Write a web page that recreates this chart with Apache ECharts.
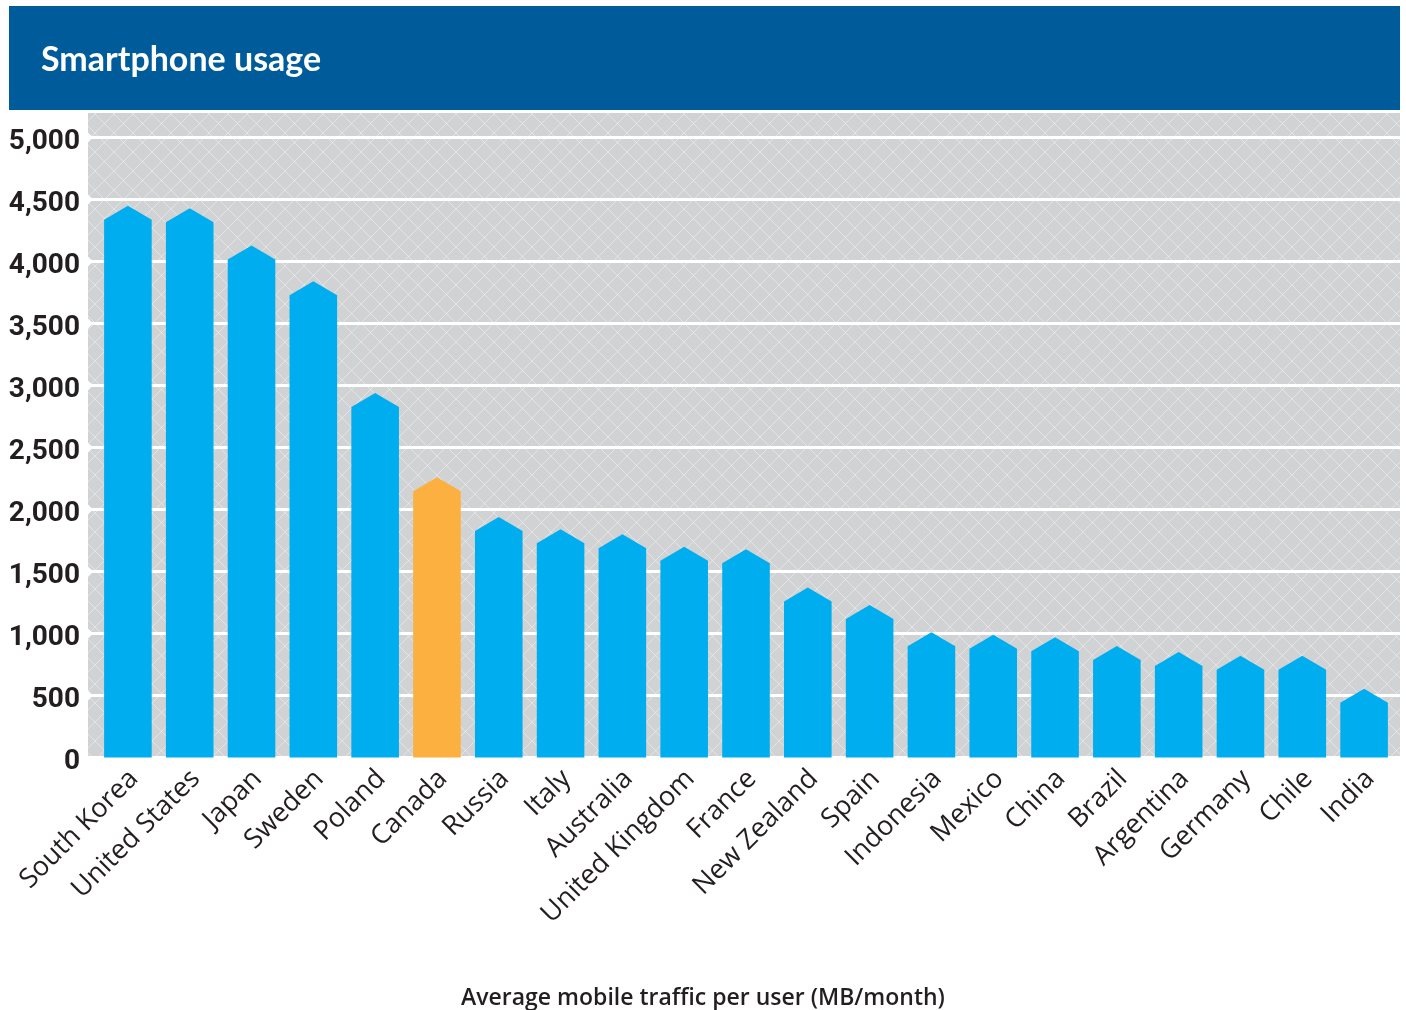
<!DOCTYPE html>
<html>
<head>
<meta charset="utf-8">
<script src="https://cdn.jsdelivr.net/npm/echarts@6/dist/echarts.min.js"></script>
<style>
html,body{margin:0;padding:0;background:#fff;}
#chart{width:1406px;height:1010px;}
</style>
</head>
<body>
<div id="chart"></div>
<script>
var categories = ['South Korea','United States','Japan','Sweden','Poland','Canada','Russia','Italy','Australia','United Kingdom','France','New Zealand','Spain','Indonesia','Mexico','China','Brazil','Argentina','Germany','Chile','India'];
var traffic = [4450,4430,4130,3840,2940,2260,1940,1840,1800,1700,1680,1370,1230,1010,990,970,900,850,820,820,555];
var highlighted = ['Canada'];
var yTicks = {min: 0, max: 5000, interval: 500};
var gridTickValues = [500,1000,1500,2000,2500,3000,3500,4000,4500,5000];
var titleText = 'Smartphone usage';
var captionText = 'Average mobile traffic per user (MB/month)';

var BLUE = '#00aeef', ORANGE = '#fbb040';

// hatched background pattern
var tile = document.createElement('canvas');
tile.width = 19; tile.height = 19;
var c = tile.getContext('2d');
c.fillStyle = '#d1d2d4';
c.fillRect(0,0,19,19);
c.strokeStyle = 'rgba(255,255,255,0.4)';
c.lineWidth = 1;
c.beginPath();
c.moveTo(0,0); c.lineTo(19,19);
c.moveTo(19,0); c.lineTo(0,19);
c.stroke();

var chart = echarts.init(document.getElementById('chart'), null, {renderer:'canvas'});

function fmt(v){ return String(v).replace(/\B(?=(\d{3})+(?!\d))/g, ','); }

var option = {
  animation: false,
  backgroundColor: '#ffffff',
  title: [
    {text: titleText, left: 36, top: 38,
     textStyle: {color: '#ffffff', fontFamily: 'Lato', fontWeight: 'bold', fontSize: 34}},
    {text: captionText, left: 'center', top: 982,
     textStyle: {color: '#231f20', fontFamily: 'Open Sans', fontWeight: 600, fontSize: 23}}
  ],
  graphic: [
    {type: 'rect', z: -10, shape: {x: 9, y: 6, width: 1391, height: 104}, style: {fill: '#005b9b'}},
    {type: 'rect', z: -10, shape: {x: 88, y: 113, width: 1312, height: 645}, style: {fill: {image: tile, repeat: 'repeat'}}}
  ],
  grid: [
    {left: 97, right: 11, top: 137.5, bottom: 252.5},
    {left: 88, right: 6, top: 137.5, bottom: 252.5},
    {left: 103, right: 5, top: 141.5, bottom: 248.5}
  ],
  xAxis: [{
    type: 'category',
    gridIndex: 0,
    data: categories,
    axisLine: {show: false},
    axisTick: {show: false},
    axisLabel: {show: false}
  }, {
    type: 'value', gridIndex: 1, show: false, min: 0, max: 1
  }, {
    type: 'category',
    gridIndex: 2,
    data: categories,
    axisLine: {show: false},
    axisTick: {show: false},
    axisLabel: {rotate: 45, margin: 13, color: '#231f20', fontFamily: 'Open Sans', fontSize: 27, interval: 0}
  }],
  yAxis: [{
    type: 'value',
    gridIndex: 0,
    min: yTicks.min, max: yTicks.max, interval: yTicks.interval,
    show: false
  }, {
    type: 'value',
    gridIndex: 1,
    min: yTicks.min, max: yTicks.max, interval: yTicks.interval,
    axisLine: {show: false},
    axisTick: {show: false},
    axisLabel: {show: false},
    splitLine: {lineStyle: {color: '#ffffff', width: 3}}
  }, {
    type: 'value',
    gridIndex: 2,
    min: yTicks.min, max: yTicks.max, interval: yTicks.interval,
    axisLine: {show: false},
    axisTick: {show: false},
    splitLine: {show: false},
    axisLabel: {margin: 23, color: '#231f20', fontFamily: 'Roboto', fontWeight: 'bold', fontSize: 28, formatter: fmt}
  }],
  series: [{
    type: 'custom',
    xAxisIndex: 0, yAxisIndex: 0,
    z: 5,
    data: traffic.map(function(v, i){ return [i, v]; }),
    renderItem: function(params, api){
      var idx = api.value(0);
      var top = api.coord([idx, api.value(1)]);
      var base = api.coord([idx, 0]);
      var w = api.size([1, 0])[0] * 0.77;
      var x = top[0];
      var peak = 14;
      var color = highlighted.indexOf(categories[idx]) >= 0 ? ORANGE : BLUE;
      return {
        type: 'polygon',
        shape: {points: [
          [x - w/2, base[1]], [x - w/2, top[1] + peak], [x, top[1]],
          [x + w/2, top[1] + peak], [x + w/2, base[1]]
        ]},
        style: {fill: color}
      };
    }
  }, {
    type: 'custom',
    xAxisIndex: 1, yAxisIndex: 1,
    z: 3,
    clip: false,
    silent: true,
    data: gridTickValues.map(function(v){ return [0, v]; }),
    renderItem: function(params, api){
      var p = api.coord([api.value(0), api.value(1)]);
      return {
        type: 'polygon',
        shape: {points: [[p[0] - 1, p[1] - 6], [p[0] + 5, p[1]], [p[0] - 1, p[1] + 6]]},
        style: {fill: '#ffffff'}
      };
    }
  }]
};
chart.setOption(option);
</script>
</body>
</html>
